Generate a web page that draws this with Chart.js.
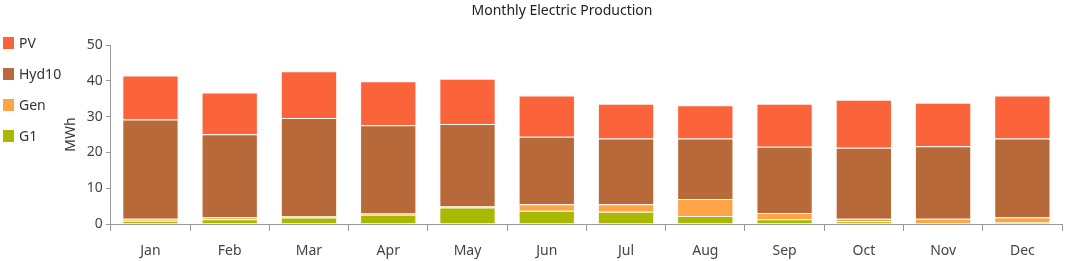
<!DOCTYPE html>
<html>
<head>
<meta charset="utf-8">
<script src="https://cdn.jsdelivr.net/npm/chart.js@4.4.1/dist/chart.umd.min.js"></script>
<style>
	body { margin: 0; background: #fff; font-family: 'Noto Sans', sans-serif; }
	#wrap { position: relative; width: 1065px; height: 261px; }
	#title { position: absolute; top: 0px; left: 562px; transform: translateX(-50%); font-size: 14px; color: #222; white-space: nowrap; }
	#legend { position: absolute; left: 3px; top: 27px; }
	.item { display: flex; align-items: center; height: 31px; font-size: 14px; color: #333; }
	.box { width: 11px; height: 12px; margin-right: 5px; }
</style>
</head>
<body>
<div id="wrap">
	<canvas id="chartProd"></canvas>
	<div id="title">Monthly Electric Production</div>
	<div id="legend"></div>
</div>
<script>
var months = ["Jan","Feb","Mar","Apr","May","Jun","Jul","Aug","Sep","Oct","Nov","Dec"];
var g1 = [0.9, 1.3, 1.8, 2.6, 4.6, 3.7, 3.4, 2.2, 1.3, 0.75, 0.3, 0.5];
var gen = [0.6, 0.6, 0.4, 0.5, 0.4, 1.8, 2.1, 4.8, 1.8, 0.75, 1.2, 1.4];
var hyd10 = [27.7, 23.2, 27.4, 24.5, 22.9, 18.9, 18.4, 16.9, 18.5, 19.8, 20.2, 22.0];
var pv = [12.3, 11.6, 13.1, 12.3, 12.7, 11.5, 9.7, 9.3, 12.0, 13.4, 12.2, 12.0];
var yTicks = [0, 10, 20, 30, 40, 50];

// bottom of the stack first
var series = [
	{label: 'G1', data: g1, color: '#A9B800'},
	{label: 'Gen', data: gen, color: '#FFA444'},
	{label: 'Hyd10', data: hyd10, color: '#B7693A'},
	{label: 'PV', data: pv, color: '#FB633B'}
];

// legend shows PV on top
series.slice().reverse().forEach(s => {
	let $item = document.createElement('div');
	$item.className = 'item';
	$item.innerHTML = `<span class="box" style="background:${s.color}"></span>${s.label}`;
	document.getElementById('legend').appendChild($item);
});

var font = {family: 'Noto Sans', size: 14};

new Chart(document.getElementById('chartProd').getContext('2d'), {
	type: 'bar',
	data: {
		labels: months,
		datasets: series.map(s => ({
			label: s.label,
			data: s.data,
			backgroundColor: s.color,
			borderColor: 'rgba(255,235,220,0.4)',
			borderWidth: 1,
			categoryPercentage: 1,
			barPercentage: 0.71
		}))
	},
	options: {
		responsive: true,
		maintainAspectRatio: false,
		animation: false,
		layout: { padding: {left: 59, right: 3, top: 45, bottom: 0} },
		plugins: {
			legend: { display: false },
			title: { display: false },
			tooltip: { enabled: false }
		},
		scales: {
			x: {
				stacked: true,
				afterFit: (axis) => { axis.height = 37; },
				border: { display: true, color: '#999' },
				grid: { display: true, drawOnChartArea: false, drawTicks: true, tickLength: 7, color: '#999', offset: true },
				ticks: { color: '#444', font: font, padding: 12 }
			},
			y: {
				stacked: true,
				min: 0,
				max: 50,
				afterBuildTicks: (axis) => { axis.ticks = yTicks.map(v => ({value: v})); },
				border: { display: true, color: '#999' },
				grid: { display: true, drawOnChartArea: false, drawTicks: true, tickLength: 5, color: '#999' },
				ticks: { color: '#444', font: font, padding: 3 },
				title: { display: true, text: 'MWh', color: '#333', font: font, padding: {top: 4, bottom: 4} }
			}
		}
	}
});
</script>
</body>
</html>
